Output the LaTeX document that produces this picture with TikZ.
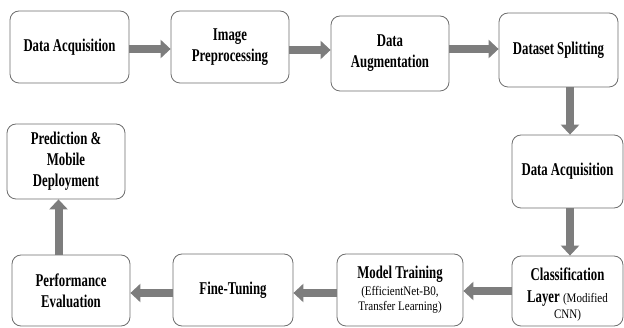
\documentclass[tikz,border=0pt]{standalone}
\usepackage{fontspec}
\setmainfont{Liberation Serif}
\newfontfamily\bigf[FakeStretch=0.71]{Liberation Serif}
\newfontfamily\smallf[FakeStretch=0.85]{Liberation Serif}
\usetikzlibrary{arrows.meta}
\definecolor{bordergray}{RGB}{110,110,110}
\definecolor{arrowgray}{RGB}{125,125,125}
\newcommand{\bigtxt}{\bigf\bfseries\fontsize{18}{21}\selectfont}
\newcommand{\smalltxt}{\smallf\mdseries\fontsize{13}{13}\selectfont}
\begin{document}
\begin{tikzpicture}[x=1pt,y=-1pt,
  box/.style={draw=bordergray, line width=0.8pt, rounded corners=9pt, fill=white,
              align=center, inner sep=2pt, font=\bigtxt},
  arr/.style={draw=arrowgray, line width=8pt, -{Triangle[width=18pt,length=10pt]}}]
\useasboundingbox (0,0) rectangle (624,328);
\node[box, minimum width=119pt, minimum height=72pt] (b1) at (69.5,47) {Data Acquisition};
\node[box, minimum width=118pt, minimum height=72pt] (b2) at (230,47) {Image\\Preprocessing};
\node[box, minimum width=118pt, minimum height=75pt] (b3) at (390,53.5) {Data\\Augmentation};
\node[box, minimum width=119pt, minimum height=74pt] (b4) at (558.5,50) {Dataset Splitting};
\node[box, minimum width=111pt, minimum height=73pt] (b5) at (567.5,171.5) {Data Acquisition};
\node[box, minimum width=111pt, minimum height=70pt] (b6) at (567.5,291) {\rule{0pt}{19pt}Classification\\[1pt]Layer {\smalltxt(Modified}\\[-5pt]{\smalltxt CNN)}};
\node[box, minimum width=126pt, minimum height=72pt] (b7) at (400,290) {Model Training\\[-4pt]{\smalltxt(EfficientNet-B0,}\\[-6pt]{\smalltxt Transfer Learning)}};
\node[box, minimum width=120pt, minimum height=72pt] (b8) at (233,290) {Fine-Tuning};
\node[box, minimum width=118pt, minimum height=71pt] (b9) at (71,290.5) {Performance\\Evaluation};
\node[box, minimum width=118pt, minimum height=75pt] (b10) at (66,161.5) {Prediction \&\\Mobile\\Deployment};
\draw[arr] (b1.east |- 0,49) -- (b2.west |- 0,49);
\draw[arr] (b2.east |- 0,50) -- (b3.west |- 0,50);
\draw[arr] (b3.east |- 0,49) -- (b4.west |- 0,49);
\draw[arr] (b4.south -| 570,0) -- (b5.north -| 570,0);
\draw[arr] (b5.south -| 570,0) -- (b6.north -| 570,0);
\draw[arr] (b6.west |- 0,291) -- (b7.east |- 0,291);
\draw[arr] (b7.west |- 0,293) -- (b8.east |- 0,293);
\draw[arr] (b8.west |- 0,293) -- (b9.east |- 0,293);
\draw[arr] (b9.north -| 58.5,0) -- (b10.south -| 58.5,0);
\end{tikzpicture}
\end{document}
